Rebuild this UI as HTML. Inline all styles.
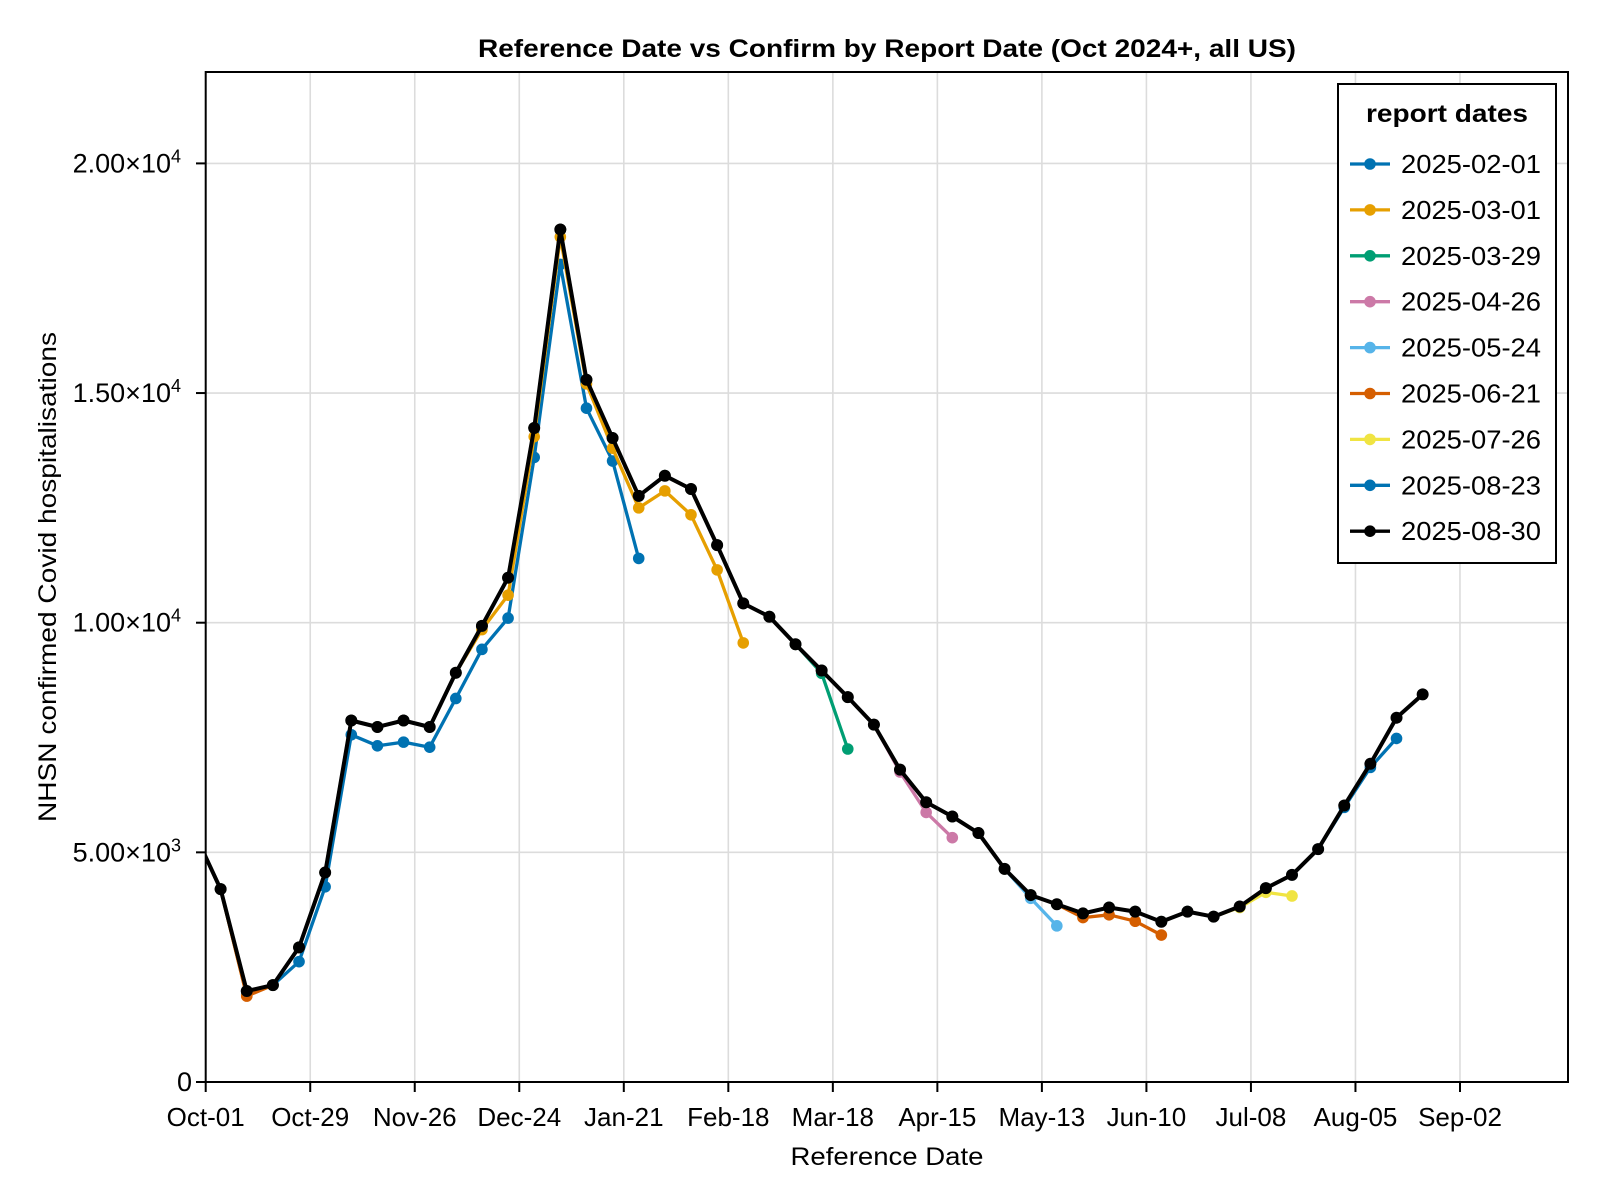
<!DOCTYPE html>
<html><head><meta charset="utf-8"><style>
html,body{margin:0;padding:0;background:#fff;}
svg{display:block;font-family:"Liberation Sans",Arial,sans-serif;}
</style></head><body>
<svg id="s" width="1600" height="1200" viewBox="0 0 1600 1200" xmlns="http://www.w3.org/2000/svg">
<defs><clipPath id="c"><rect x="205.7" y="72" width="1362.3" height="1010"/></clipPath></defs>
<rect width="1600" height="1200" fill="#fff"/>
<g id="grid" stroke="#dcdcdc" stroke-width="1.6"></g>
<g id="data" clip-path="url(#c)"></g>
<rect x="205.7" y="72" width="1362.3" height="1010" fill="none" stroke="#000" stroke-width="2"/>
<g id="ticks" stroke="#000" stroke-width="2"></g>
<g id="labels" font-size="26" fill="#000"></g>
<text x="887" y="57" font-size="25" font-weight="bold" text-anchor="middle" textLength="818" lengthAdjust="spacingAndGlyphs">Reference Date vs Confirm by Report Date (Oct 2024+, all US)</text>
<text x="887" y="1165" font-size="25" text-anchor="middle" textLength="193" lengthAdjust="spacingAndGlyphs">Reference Date</text>
<text transform="translate(56,577) rotate(-90)" font-size="25" text-anchor="middle" textLength="490" lengthAdjust="spacingAndGlyphs">NHSN confirmed Covid hospitalisations</text>
<g id="legend"></g>
</svg>
<script>
var NS="http://www.w3.org/2000/svg";
function el(p,t,a,txt){var e=document.createElementNS(NS,t);for(var k in a)e.setAttribute(k,a[k]);if(txt!=null)e.textContent=txt;document.getElementById(p)?document.getElementById(p).appendChild(e):p.appendChild(e);return e;}
var X0=205.7,PD=3.733,Y0=1082,SY=0.04593;
function X(k){return X0+(4+7*k)*PD;}
function Y(v){return Y0-v*SY;}
var xl=["Oct-01","Oct-29","Nov-26","Dec-24","Jan-21","Feb-18","Mar-18","Apr-15","May-13","Jun-10","Jul-08","Aug-05","Sep-02"];
for(var i=0;i<xl.length;i++){var x=X0+i*28*PD;
 if(i>0)el("grid","line",{x1:x,x2:x,y1:72,y2:1082});
 el("ticks","line",{x1:x,x2:x,y1:1082,y2:1092});
 el("labels","text",{x:x,y:1126,"text-anchor":"middle"},xl[i]);}
var yv=[0,5000,10000,15000,20000],ym=["0","5.00×10","1.00×10","1.50×10","2.00×10"],ye=["","3","4","4","4"];
for(var i=0;i<yv.length;i++){var y=Y(yv[i]);
 if(i>0)el("grid","line",{x1:205.7,x2:1568,y1:y,y2:y});
 el("ticks","line",{x1:196,x2:205.7,y1:y,y2:y});
 var t=el("labels","text",{x:(i==0?192:181),y:y+9,"text-anchor":"end","font-size":27},ym[i]);
 if(ye[i]){var s=document.createElementNS(NS,"tspan");s.setAttribute("dy","-10");s.setAttribute("font-size","18");s.textContent=ye[i];t.appendChild(s);}}
var B=[5425,4200,1980,2110,2930,4560,7870,7730,7870,7730,8910,9930,10980,14240,18560,15290,14020,12760,13200,12910,11690,10420,10130,9530,8960,8380,7780,6800,6090,5780,5420,4640,4070,3870,3670,3800,3710,3490,3710,3600,3820,4220,4510,5070,6020,6930,7930,8440];
var S=[
["2025-02-01","#0072B2",16,{1:1900,3:2620,4:4250,5:7560,6:7320,7:7400,8:7290,9:8350,10:9420,11:10100,12:13600,13:17800,14:14670,15:13520,16:11400}],
["2025-03-01","#E69F00",20,{1:1880,10:9850,11:10600,12:14050,13:18400,14:15200,15:13800,16:12500,17:12870,18:12350,19:11150,20:9560}],
["2025-03-29","#009E73",24,{23:8900,24:7250}],
["2025-04-26","#CC79A7",28,{26:6750,27:5870,28:5320}],
["2025-05-24","#56B4E9",32,{31:4000,32:3400}],
["2025-06-21","#D55E00",36,{1:1870,33:3580,34:3640,35:3500,36:3200}],
["2025-07-26","#F0E442",41,{39:3800,40:4130,41:4050}],
["2025-08-23","#0072B2",45,{43:5980,44:6850,45:7480}],
["2025-08-30","#000000",46,{}]];
S.forEach(function(s){
 var pts=[];for(var k=-1;k<=s[2];k++){var v=(s[3][k]!=null)?s[3][k]:B[k+1];pts.push([X(k),Y(v)]);}
 var g=el("data","g",{});
 el(g,"polyline",{points:pts.map(function(p){return p[0].toFixed(1)+","+p[1].toFixed(1)}).join(" "),fill:"none",stroke:s[1],"stroke-width":s[1]=="#000000"?4:3.3,"stroke-linejoin":"round"});
 pts.forEach(function(p){el(g,"circle",{cx:p[0],cy:p[1],r:s[1]=="#000000"?6:5.8,fill:s[1]});});
});
el("legend","rect",{x:1338,y:84,width:218,height:479,fill:"#fff",stroke:"#000","stroke-width":2});
el("legend","text",{x:1447,y:122,"font-size":25,"font-weight":"bold","text-anchor":"middle",textLength:162,lengthAdjust:"spacingAndGlyphs"},"report dates");
S.forEach(function(s,i){var y=164+i*45.9;
 el("legend","line",{x1:1350,x2:1390,y1:y,y2:y,stroke:s[1],"stroke-width":3.3});
 el("legend","circle",{cx:1370,cy:y,r:5.8,fill:s[1]});
 el("legend","text",{x:1401,y:y+9,"font-size":26,textLength:140,lengthAdjust:"spacingAndGlyphs"},s[0]);});
</script>
</body></html>
